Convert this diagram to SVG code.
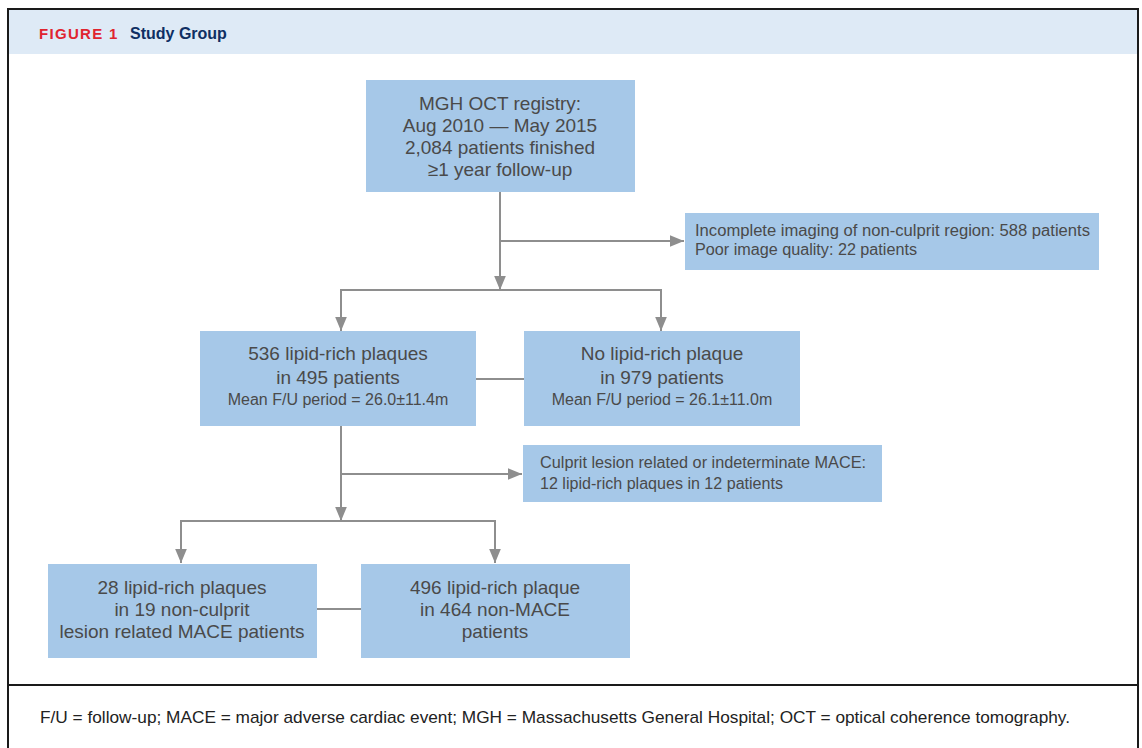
<svg xmlns="http://www.w3.org/2000/svg" width="1142" height="748" viewBox="0 0 1142 748">
<style>
.box{fill:#a6c8e8}
.t{font-family:"Liberation Sans",Arial,sans-serif;fill:#4a4a4a}
.c{text-anchor:middle}
.l19{font-size:19px}
.l16{font-size:16px}
.l15{font-size:16px}
.ln{stroke:#8e8e8e;stroke-width:2;fill:none}
</style>
<defs>
<marker id="ah2" viewBox="0 0 12 10" refX="12" refY="5" markerWidth="14" markerHeight="12" markerUnits="userSpaceOnUse" orient="auto">
<path d="M0,0 L12,5 L0,10 z" fill="#8e8e8e"/>
</marker>
</defs>
<rect x="0" y="0" width="1142" height="748" fill="#ffffff"/>
<rect x="8" y="9" width="1130" height="45" fill="#deeaf6"/>
<rect x="8" y="9" width="1130" height="745" fill="none" stroke="#1a1a1a" stroke-width="2"/>
<line x1="8" y1="685" x2="1138" y2="685" stroke="#1a1a1a" stroke-width="2"/>
<text x="39" y="39" font-family="'Liberation Sans',Arial,sans-serif" font-weight="bold" font-size="15" fill="#e0242f" letter-spacing="1.3">FIGURE 1</text>
<text x="130" y="39" font-family="'Liberation Sans',Arial,sans-serif" font-weight="bold" font-size="16" fill="#0f2f63">Study Group</text>

<g id="connectors">
<line class="ln" x1="500" y1="192" x2="500" y2="290" marker-end="url(#ah2)"/>
<line class="ln" x1="500" y1="241" x2="684" y2="241" marker-end="url(#ah2)"/>
<polyline class="ln" points="341,300 341,290 661,290 661,300"/>
<line class="ln" x1="341" y1="300" x2="341" y2="331" marker-end="url(#ah2)"/>
<line class="ln" x1="661" y1="300" x2="661" y2="331" marker-end="url(#ah2)"/>
<line class="ln" x1="476" y1="379" x2="524" y2="379"/>
<line class="ln" x1="341" y1="426" x2="341" y2="521" marker-end="url(#ah2)"/>
<line class="ln" x1="341" y1="474" x2="522" y2="474" marker-end="url(#ah2)"/>
<polyline class="ln" points="181,530 181,521 495,521 495,530"/>
<line class="ln" x1="181" y1="530" x2="181" y2="563" marker-end="url(#ah2)"/>
<line class="ln" x1="495" y1="530" x2="495" y2="563" marker-end="url(#ah2)"/>
<line class="ln" x1="317" y1="609" x2="361" y2="609"/>
</g>

<g id="n-registry">
<rect class="box" x="366" y="80" width="269" height="112"/>
<text class="t c l19" x="500" y="110">MGH OCT registry:</text>
<text class="t c l19" x="500" y="132">Aug 2010 — May 2015</text>
<text class="t c l19" x="500" y="154">2,084 patients finished</text>
<text class="t c l19" x="500" y="176">≥1 year follow-up</text>
</g>

<g id="n-excluded">
<rect class="box" x="685" y="213" width="414" height="57"/>
<text class="t l15" x="695" y="236" textLength="395" lengthAdjust="spacingAndGlyphs">Incomplete imaging of non-culprit region: 588 patients</text>
<text class="t l15" x="695" y="255" textLength="222" lengthAdjust="spacingAndGlyphs">Poor image quality: 22 patients</text>
</g>

<g id="n-lipid">
<rect class="box" x="200" y="331" width="276" height="95"/>
<text class="t c l19" x="338" y="360">536 lipid-rich plaques</text>
<text class="t c l19" x="338" y="384">in 495 patients</text>
<text class="t c l16" x="338" y="405">Mean F/U period = 26.0±11.4m</text>
</g>

<g id="n-nolipid">
<rect class="box" x="524" y="331" width="276" height="95"/>
<text class="t c l19" x="662" y="360">No lipid-rich plaque</text>
<text class="t c l19" x="662" y="384">in 979 patients</text>
<text class="t c l16" x="662" y="405">Mean F/U period = 26.1±11.0m</text>
</g>

<g id="n-culprit">
<rect class="box" x="523" y="445" width="359" height="57"/>
<text class="t l15" x="540" y="468" textLength="326" lengthAdjust="spacingAndGlyphs">Culprit lesion related or indeterminate MACE:</text>
<text class="t l15" x="540" y="489" textLength="243" lengthAdjust="spacingAndGlyphs">12 lipid-rich plaques in 12 patients</text>
</g>

<g id="n-mace">
<rect class="box" x="48" y="564" width="269" height="94"/>
<text class="t c l19" x="182" y="594">28 lipid-rich plaques</text>
<text class="t c l19" x="182" y="616">in 19 non-culprit</text>
<text class="t c l19" x="182" y="638">lesion related MACE patients</text>
</g>

<g id="n-nonmace">
<rect class="box" x="361" y="564" width="269" height="94"/>
<text class="t c l19" x="495" y="594">496 lipid-rich plaque</text>
<text class="t c l19" x="495" y="616">in 464 non-MACE</text>
<text class="t c l19" x="495" y="638">patients</text>
</g>

<text x="40" y="723" font-family="'Liberation Sans',Arial,sans-serif" font-size="17" fill="#222222" textLength="1030" lengthAdjust="spacingAndGlyphs">F/U = follow-up; MACE = major adverse cardiac event; MGH = Massachusetts General Hospital; OCT = optical coherence tomography.</text>
</svg>
